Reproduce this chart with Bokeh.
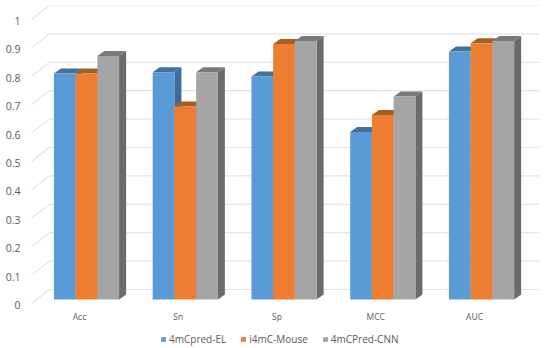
from bokeh.embed import file_html
from bokeh.resources import INLINE
from bokeh.plotting import figure
from bokeh.models import Range1d, LinearAxis, FixedTicker, Legend, LegendItem

categories = ["Acc", "Sn", "Sp", "MCC", "AUC"]
series_names = ["4mCpred-EL", "i4mC-Mouse", "4mCPred-CNN"]
el_values = [0.796, 0.80, 0.785, 0.59, 0.873]
mouse_values = [0.796, 0.68, 0.90, 0.65, 0.902]
cnn_values = [0.857, 0.80, 0.91, 0.715, 0.91]
y_ticks = [0, 0.1, 0.2, 0.3, 0.4, 0.5, 0.6, 0.7, 0.8, 0.9, 1]
y_labels = ["0", "0.1", "0.2", "0.3", "0.4", "0.5", "0.6", "0.7", "0.8", "0.9", "1"]

front_colors = ["#5B9BD5", "#ED7D31", "#A5A5A5"]
top_colors = ["#41719C", "#A65F22", "#7A7A7A"]
side_colors = ["#3F6C96", "#A65F22", "#6B6B6B"]

BAR_W = 0.22
GROUP_DX = 0.071
GROUP_DY = 0.0194
DEPTH_X = 0.071
DEPTH_Y = 0.0176
WALL_L, WALL_BACK_L, WALL_R = -0.486, -0.304, 4.658
WALL_DY = 0.0546
WALL_FRONT_DY = 0.0053
GRID = "#E4E4E4"
FONT = "Open Sans"

p = figure(frame_width=511, frame_height=341,
           x_range=Range1d(-0.496, 4.678), y_range=Range1d(-0.1461, 1.0546),
           output_backend="svg", toolbar_location=None,
           x_axis_location=None, y_axis_location=None,
           min_border_left=25, min_border_right=0, min_border_top=0, min_border_bottom=0,
           background_fill_color="white", border_fill_color="white",
           outline_line_color=None)
p.margin = (5, 0, 0, 2)
p.xgrid.visible = False
p.ygrid.visible = False

p.multi_line([[WALL_BACK_L, WALL_R] for _ in y_ticks],
             [[t + WALL_DY, t + WALL_DY] for t in y_ticks],
             line_color=GRID, line_width=1.2)
p.multi_line([[WALL_L, WALL_BACK_L] for _ in y_ticks],
             [[t + WALL_FRONT_DY, t + WALL_DY] for t in y_ticks],
             line_color=GRID, line_width=1.2)

legend_items = []
series = [el_values, mouse_values, cnn_values]
for s, vals in enumerate(series):
    lefts = [i + GROUP_DX + (s - 1.5) * BAR_W for i in range(len(categories))]
    rights = [l + BAR_W for l in lefts]
    base = GROUP_DY
    tops = [v + GROUP_DY for v in vals]
    p.patches([[r, r + DEPTH_X, r + DEPTH_X, r] for r in rights],
              [[base, base + DEPTH_Y, t + DEPTH_Y, t] for t in tops],
              fill_color=side_colors[s], line_color=None)
    p.patches([[l, l + DEPTH_X, r + DEPTH_X, r] for l, r in zip(lefts, rights)],
              [[t, t + DEPTH_Y, t + DEPTH_Y, t] for t in tops],
              fill_color=top_colors[s], line_color=None)
    r_front = p.quad(left=lefts, right=rights, bottom=base, top=tops,
                     fill_color=front_colors[s], line_color=None)
    legend_items.append(LegendItem(label=series_names[s], renderers=[r_front]))

yaxis = LinearAxis(ticker=FixedTicker(ticks=y_ticks),
                   major_label_overrides=dict(zip(y_ticks, y_labels)),
                   axis_line_color=None, major_tick_line_color=None, minor_tick_line_color=None,
                   major_tick_in=0, major_tick_out=0, major_label_standoff=10,
                   major_label_text_font=FONT, major_label_text_font_size="10.5px",
                   major_label_text_color="#595959")
p.add_layout(yaxis, "left")

xaxis = LinearAxis(ticker=FixedTicker(ticks=list(range(len(categories)))),
                   major_label_overrides=dict(enumerate(categories)),
                   axis_line_color=None, major_tick_line_color=None, minor_tick_line_color=None,
                   major_tick_in=0, major_tick_out=0, major_label_standoff=2,
                   major_label_text_font=FONT, major_label_text_font_size="8.5px",
                   major_label_text_color="#595959",
                   fixed_location=-0.0157)
p.add_layout(xaxis, "below")

legend = Legend(items=legend_items, orientation="horizontal", location=(130, 0),
                border_line_color=None, background_fill_alpha=0,
                glyph_width=6, glyph_height=6, label_standoff=3, spacing=14,
                padding=0, margin=0,
                label_text_font=FONT, label_text_font_size="10px", label_text_color="#595959")
p.add_layout(legend, "center")

open("out.html", "w").write(file_html(p, INLINE))
